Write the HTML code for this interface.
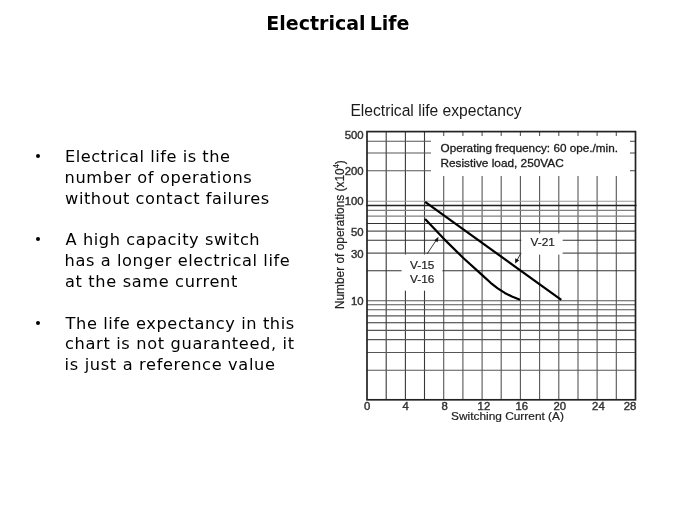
<!DOCTYPE html>
<html lang="en">
<head>
<meta charset="utf-8">
<title>Electrical Life</title>
<style>
html,body{margin:0;padding:0;background:#fff;}
body{width:675px;height:506px;position:relative;overflow:hidden;font-family:"DejaVu Sans","Liberation Sans",Verdana,sans-serif;color:#000;}
h1{position:absolute;left:266.30px;top:11.2px;margin:0;font-size:19px;line-height:24px;font-weight:bold;letter-spacing:0.000px;word-spacing:-2.4px;white-space:nowrap;}
.ln{position:absolute;margin:0;font-size:16.2px;line-height:20px;white-space:nowrap;}
.bu{position:absolute;left:36px;width:4.2px;height:4.2px;border-radius:50%;background:#000;}
#chart{position:absolute;left:0;top:0;filter:blur(0.4px);}
</style>
</head>
<body>
<h1 id="h1">Electrical Life</h1>
<div class="bu" style="top:153.9px"></div>
<div class="bu" style="top:236.8px"></div>
<div class="bu" style="top:320.7px"></div>
<p id="a1" class="ln" style="top:147.20px;left:64.90px;letter-spacing:0.529px">Electrical life is the</p>
<p id="a2" class="ln" style="top:167.90px;left:64.60px;letter-spacing:0.631px">number of operations</p>
<p id="a3" class="ln" style="top:188.60px;left:65.10px;letter-spacing:0.561px">without contact failures</p>
<p id="b1" class="ln" style="top:229.80px;left:65.50px;letter-spacing:0.586px">A high capacity switch</p>
<p id="b2" class="ln" style="top:251.00px;left:64.60px;letter-spacing:0.582px">has a longer electrical life</p>
<p id="b3" class="ln" style="top:272.00px;left:65.00px;letter-spacing:0.645px">at the same current</p>
<p id="c1" class="ln" style="top:314.20px;left:65.60px;letter-spacing:0.600px">The life expectancy in this</p>
<p id="c2" class="ln" style="top:333.50px;left:65.00px;letter-spacing:0.661px">chart is not guaranteed, it</p>
<p id="c3" class="ln" style="top:355.00px;left:64.60px;letter-spacing:0.663px">is just a reference value</p>
<svg id="chart" width="675" height="506" viewBox="0 0 675 506">
<g fill="none" stroke="#565656" stroke-width="1.10">
<line x1="386.2" y1="131.6" x2="386.2" y2="399.8" stroke="#383838"/>
<line x1="405.4" y1="131.6" x2="405.4" y2="399.8" stroke="#383838"/>
<line x1="424.5" y1="131.6" x2="424.5" y2="399.8" stroke="#383838"/>
<line x1="443.7" y1="176.0" x2="443.7" y2="399.8"/>
<line x1="443.7" y1="131.6" x2="443.7" y2="136.1"/>
<line x1="462.9" y1="176.0" x2="462.9" y2="399.8"/>
<line x1="462.9" y1="131.6" x2="462.9" y2="136.1"/>
<line x1="482.1" y1="176.0" x2="482.1" y2="399.8"/>
<line x1="482.1" y1="131.6" x2="482.1" y2="136.1"/>
<line x1="501.2" y1="176.0" x2="501.2" y2="399.8"/>
<line x1="501.2" y1="131.6" x2="501.2" y2="136.1"/>
<line x1="520.4" y1="176.0" x2="520.4" y2="399.8"/>
<line x1="520.4" y1="131.6" x2="520.4" y2="136.1"/>
<line x1="539.6" y1="176.0" x2="539.6" y2="399.8"/>
<line x1="539.6" y1="131.6" x2="539.6" y2="136.1"/>
<line x1="558.8" y1="176.0" x2="558.8" y2="399.8"/>
<line x1="558.8" y1="131.6" x2="558.8" y2="136.1"/>
<line x1="578.0" y1="176.0" x2="578.0" y2="399.8"/>
<line x1="578.0" y1="131.6" x2="578.0" y2="136.1"/>
<line x1="597.1" y1="176.0" x2="597.1" y2="399.8"/>
<line x1="597.1" y1="131.6" x2="597.1" y2="136.1"/>
<line x1="616.3" y1="176.0" x2="616.3" y2="399.8"/>
<line x1="616.3" y1="131.6" x2="616.3" y2="136.1"/>
<line x1="367.0" y1="304.8" x2="635.5" y2="304.8"/>
<line x1="367.0" y1="309.7" x2="635.5" y2="309.7"/>
<line x1="367.0" y1="315.9" x2="635.5" y2="315.9"/>
<line x1="367.0" y1="322.7" x2="635.5" y2="322.7" stroke="#333"/>
<line x1="367.0" y1="330.4" x2="635.5" y2="330.4"/>
<line x1="367.0" y1="339.6" x2="635.5" y2="339.6"/>
<line x1="367.0" y1="352.5" x2="635.5" y2="352.5"/>
<line x1="367.0" y1="370.2" x2="635.5" y2="370.2"/>
<line x1="367.0" y1="300.8" x2="635.5" y2="300.8"/>
<line x1="367.0" y1="270.7" x2="635.5" y2="270.7" stroke="#333"/>
<line x1="367.0" y1="253.1" x2="635.5" y2="253.1"/>
<line x1="367.0" y1="240.3" x2="635.5" y2="240.3" stroke="#333"/>
<line x1="367.0" y1="231.1" x2="635.5" y2="231.1"/>
<line x1="367.0" y1="223.5" x2="635.5" y2="223.5" stroke="#333"/>
<line x1="367.0" y1="216.1" x2="635.5" y2="216.1" stroke="#808080"/>
<line x1="367.0" y1="210.4" x2="635.5" y2="210.4" stroke="#808080"/>
<line x1="367.0" y1="201.2" x2="635.5" y2="201.2" stroke="#999"/>
<line x1="367.0" y1="170.7" x2="431.0" y2="170.7"/>
<line x1="630.0" y1="170.7" x2="635.5" y2="170.7"/>
<line x1="367.0" y1="153.0" x2="431.0" y2="153.0"/>
<line x1="630.0" y1="153.0" x2="635.5" y2="153.0"/>
<line x1="367.0" y1="141.3" x2="431.0" y2="141.3"/>
<line x1="630.0" y1="141.3" x2="635.5" y2="141.3"/>
</g>
<line x1="366.0" y1="205.4" x2="636.5" y2="205.4" stroke="#222" stroke-width="1.5"/>
<rect x="401.6" y="254.5" width="40.8" height="36.2" fill="#fff"/>
<rect x="521.3" y="233.4" width="41.4" height="21.2" fill="#fff"/>
<rect x="367.0" y="131.6" width="268.5" height="268.2" fill="none" stroke="#222" stroke-width="1.7"/>
<path d="M425.1,201.8 L561.3,299.9" fill="none" stroke="#000" stroke-width="2.2"/>
<path d="M425.1,218.9 L443.6,238.6 L463.3,258 L482.5,275.4 L490.6,282.8 L497.7,288.3 L504.8,292.9 L511.9,296.6 L520,299.8" fill="none" stroke="#000" stroke-width="2.2" stroke-linejoin="round"/>
<path d="M427,254 L437.6,238.2" fill="none" stroke="#222" stroke-width="0.9"/>
<path d="M438.6,236.8 L434.3,240.2 L437.6,242.2 Z" fill="#111"/>
<path d="M520.8,253.3 L516,262" fill="none" stroke="#222" stroke-width="0.9"/>
<path d="M515.2,263.4 L515.2,258.2 L519.2,260.3 Z" fill="#111"/>
<g font-family="'Liberation Sans', Arial, sans-serif">
<text transform="translate(350.40,115.70) scale(1.000,1)" font-size="15.65" text-anchor="start" fill="#1a1a1a">Electrical life expectancy</text>
<text transform="translate(363.60,139.10) scale(1.080,1)" font-size="10.50" text-anchor="end" fill="#333" stroke="#333" stroke-width="0.40">500</text>
<text transform="translate(363.60,174.90) scale(1.080,1)" font-size="10.50" text-anchor="end" fill="#333" stroke="#333" stroke-width="0.40">200</text>
<text transform="translate(363.60,204.80) scale(1.080,1)" font-size="10.50" text-anchor="end" fill="#333" stroke="#333" stroke-width="0.40">100</text>
<text transform="translate(363.60,236.20) scale(1.080,1)" font-size="10.50" text-anchor="end" fill="#333" stroke="#333" stroke-width="0.40">50</text>
<text transform="translate(363.60,257.50) scale(1.080,1)" font-size="10.50" text-anchor="end" fill="#333" stroke="#333" stroke-width="0.40">30</text>
<text transform="translate(363.60,304.70) scale(1.080,1)" font-size="10.50" text-anchor="end" fill="#333" stroke="#333" stroke-width="0.40">10</text>
<text transform="translate(367.10,410.20) scale(1.080,1)" font-size="10.50" text-anchor="middle" fill="#333" stroke="#333" stroke-width="0.40">0</text>
<text transform="translate(405.70,410.20) scale(1.080,1)" font-size="10.50" text-anchor="middle" fill="#333" stroke="#333" stroke-width="0.40">4</text>
<text transform="translate(444.60,410.20) scale(1.080,1)" font-size="10.50" text-anchor="middle" fill="#333" stroke="#333" stroke-width="0.40">8</text>
<text transform="translate(483.90,410.20) scale(1.080,1)" font-size="10.50" text-anchor="middle" fill="#333" stroke="#333" stroke-width="0.40">12</text>
<text transform="translate(521.70,410.20) scale(1.080,1)" font-size="10.50" text-anchor="middle" fill="#333" stroke="#333" stroke-width="0.40">16</text>
<text transform="translate(559.80,410.20) scale(1.080,1)" font-size="10.50" text-anchor="middle" fill="#333" stroke="#333" stroke-width="0.40">20</text>
<text transform="translate(598.40,410.20) scale(1.080,1)" font-size="10.50" text-anchor="middle" fill="#333" stroke="#333" stroke-width="0.40">24</text>
<text transform="translate(630.00,410.20) scale(1.080,1)" font-size="10.50" text-anchor="middle" fill="#333" stroke="#333" stroke-width="0.40">28</text>
<text transform="translate(451.00,420.40) scale(1.035,1)" font-size="11.50" text-anchor="start" fill="#222" stroke="#222" stroke-width="0.20">Switching Current (A)</text>
<text transform="translate(344.0,309.1) rotate(-90) scale(1,1.09)" font-size="11.9" fill="#222" stroke="#222" stroke-width="0.2">Number of operations (x10<tspan font-size="7.5" dy="-4.2">4</tspan><tspan dy="4.2">)</tspan></text>
<text transform="translate(440.50,152.10) scale(1.040,1)" font-size="11.30" text-anchor="start" fill="#1a1a1a" stroke="#1a1a1a" stroke-width="0.30">Operating frequency: 60 ope./min.</text>
<text transform="translate(440.50,166.90) scale(1.047,1)" font-size="11.30" text-anchor="start" fill="#1a1a1a" stroke="#1a1a1a" stroke-width="0.30">Resistive load, 250VAC</text>
<text transform="translate(410.00,269.00) scale(1.030,1)" font-size="11.50" text-anchor="start" fill="#222" stroke="#222" stroke-width="0.20">V-15</text>
<text transform="translate(410.00,283.20) scale(1.030,1)" font-size="11.50" text-anchor="start" fill="#222" stroke="#222" stroke-width="0.20">V-16</text>
<text transform="translate(530.50,246.40) scale(1.030,1)" font-size="11.50" text-anchor="start" fill="#222" stroke="#222" stroke-width="0.20">V-21</text>
</g>
</svg>
</body>
</html>
